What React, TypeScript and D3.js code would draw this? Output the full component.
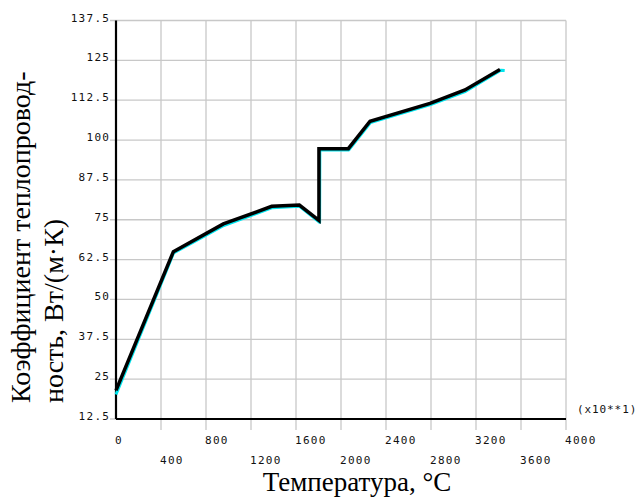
import React from 'react';
import * as d3 from 'd3';

// values (temperature in x10 °C units as printed)
const xTicks = [0, 400, 800, 1200, 1600, 2000, 2400, 2800, 3200, 3600, 4000];
const yTicks = [12.5, 25, 37.5, 50, 62.5, 75, 87.5, 100, 112.5, 125, 137.5];

const blackT = [0, 510, 954, 1384, 1630, 1804, 1804, 2065, 2258, 2791, 3102, 3413];
const blackK = [21.5, 65, 73.7, 79.2, 79.6, 74.8, 97.3, 97.3, 105.9, 111.5, 115.7, 122.1];

const cyanT = [0, 512, 958, 1390, 1632, 1810, 1812, 2070, 2262, 2796, 3108, 3420, 3455];
const cyanK = [20.2, 64.6, 73.2, 78.8, 79.2, 74.2, 96.9, 96.9, 105.5, 111.1, 115.3, 121.9, 121.8];

const W = 639, H = 497;
const x0 = 116, x1 = 566, yTop = 20.5, yBot = 419;

export default function App() {
  const x = d3.scaleLinear().domain([0, 4000]).range([x0, x1]);
  const y = d3.scaleLinear().domain([12.5, 137.5]).range([yBot, yTop]);

  const path = (ts: number[], ks: number[]) =>
    d3.line<number>()
      .x((d) => x(d))
      .y((d, i) => y(ks[i]))(ts) || '';

  const mono = { fontFamily: '"DejaVu Sans Mono", monospace', fontSize: 11, letterSpacing: 1.3, fill: '#111' };
  const serif = { fontFamily: '"Liberation Serif", "Times New Roman", serif', fontSize: 28, fill: '#000' };

  return (
    <svg width={W} height={H} style={{ position: 'absolute', left: 0, top: 0, background: '#fff' }}>
      {/* grid */}
      {xTicks.map((t) => (
        <line key={'gx' + t} x1={x(t)} x2={x(t)} y1={yTop} y2={t === 0 ? yBot : yBot + 11}
          stroke="#c8c8c8" strokeWidth={1.3} />
      ))}
      {yTicks.map((t) => (
        <line key={'gy' + t} x1={x0 - 6} x2={x1} y1={y(t)} y2={y(t)}
          stroke="#c8c8c8" strokeWidth={1.3} />
      ))}
      {/* axes */}
      <line x1={x0} x2={x0} y1={yTop} y2={yBot} stroke="#000" strokeWidth={2.2} />
      <line x1={x0} x2={x1} y1={yBot} y2={yBot} stroke="#000" strokeWidth={2.2} />

      {yTicks.map((t) => (
        <text key={'ly' + t} x={109 + 1.3} y={y(t) + 1} textAnchor="end" {...mono}>{t}</text>
      ))}
      {xTicks.map((t, i) => (
        <text key={'lx' + t} x={x(t) - 1} y={i % 2 === 0 ? 444 : 464} textAnchor="start" {...mono}>{t}</text>
      ))}
      <text x={577} y={413} {...mono} letterSpacing={0.9}>(x10**1)</text>

      {/* series */}
      <path d={path(cyanT, cyanK)} fill="none" stroke="#00e5ee" strokeWidth={3} strokeLinejoin="round" />
      <path d={path(blackT, blackK)} fill="none" stroke="#000" strokeWidth={3.5} strokeLinejoin="miter" />

      {/* titles */}
      <text x={357} y={491} textAnchor="middle" {...serif} fontSize={27}>Температура, °C</text>
      <g transform="translate(30,403) rotate(-90)">
        <text x={0} y={0} textAnchor="start" {...serif}>Коэффициент теплопровод-</text>
        <text x={0} y={33} textAnchor="start" {...serif}>ность, Вт/(м·К)</text>
      </g>
    </svg>
  );
}
